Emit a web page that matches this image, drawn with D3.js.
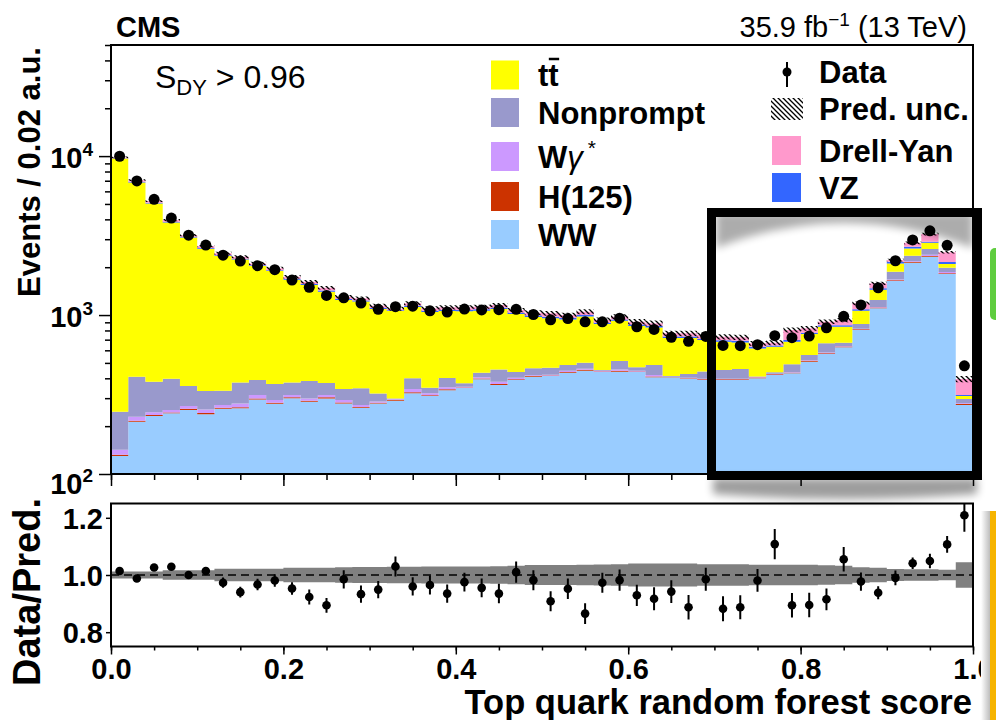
<!DOCTYPE html>
<html>
<head>
<meta charset="utf-8">
<script src="https://cdnjs.cloudflare.com/ajax/libs/d3/7.8.5/d3.min.js"></script>
<style>
  body { margin: 0; background: #fff; }
  svg { display: block; font-family: "Liberation Sans", Arial, Helvetica, sans-serif; }
</style>
</head>
<body>
<div id="chart"></div>
<script>
// bins of 0.02 in the random forest score, events per bin
var binWidth = 0.02;
var ww = [130,213,232,241,253,238,257,259,294,277,300,285,299,278,261,278,289,322,309,337,347,394,363,390,409,413,434,446,438,440,438,406,406,398,390,390,390,400,420,430,509,569,627,805,1102,1636,2132,2326,1811,272];
var h125 = [2,3,3,3,4,4,4,4,5,4,4,4,5,4,3,3,3,5,4,4,3,5,5,5,4,4,5,6,4,6,4,5,2,2,4,4,4,4,4,4,6,7,8,10,14,20,26,28,22,4];
var wgamma = [10,13,10,9,11,13,11,15,15,11,10,10,10,10,8,5,3,15,9,10,4,7,13,8,5,4,7,8,4,9,4,9,1,3,3,3,3,3,3,3,4,6,4,6,8,16,22,40,30,3];
var nonprompt = [104,180,136,145,90,78,62,99,76,76,62,86,60,50,74,35,4,58,27,51,18,28,74,35,44,45,39,41,5,59,23,65,4,23,44,54,60,3,9,53,41,82,31,57,119,200,180,207,121,17];
var ttbar = [9424,6401,4649,3422,2712,2279,2016,1857,1643,1523,1291,1159,1027,901,870,770,761,723,695,658,683,630,636,577,509,487,452,478,427,407,384,350,304,291,255,228,216,207,196,189,200,180,174,186,199,242,267,249,109,13];
var vz = [40,80,60,45,35,32,30,30,27,25,25,25,28,20,20,18,12,20,20,20,22,22,22,20,21,24,21,23,17,18,18,17,17,17,10,15,15,14,12,17,15,18,20,22,30,50,62,41,61,5];
var drellYan = [100,170,120,95,75,72,65,62,54,51,49,51,56,40,38,35,24,42,38,38,41,42,43,40,42,48,42,47,35,37,37,35,33,33,43,36,36,33,26,109,50,46,66,99,111,54,161,341,326,82];
var data = [9980,6980,5350,4075,3180,2755,2380,2186,2044,1930,1659,1495,1328,1283,1189,1086,1129,1138,1063,1045,1090,1077,1081,1086,1008,933,950,907,907,956,844,812,725,683,734,644,642,651,742,720,738,831,981,1158,1485,2196,2967,3390,2745,479];
// relative prediction uncertainty (grey band / hatching)
var predUnc = [0.012,0.012,0.012,0.017,0.017,0.017,0.022,0.022,0.022,0.022,0.025,0.025,0.025,0.027,0.028,0.028,0.029,0.029,0.03,0.03,0.03,0.03,0.031,0.032,0.035,0.035,0.035,0.036,0.037,0.038,0.04,0.04,0.04,0.04,0.038,0.038,0.038,0.036,0.036,0.036,0.036,0.034,0.032,0.027,0.025,0.021,0.02,0.02,0.018,0.045];
// lower panel
var ratio = [1.014,0.988,1.026,1.029,1.0,1.014,0.973,0.94,0.967,0.981,0.953,0.923,0.894,0.985,0.933,0.949,1.03,0.96,0.965,0.935,0.975,0.955,0.935,1.01,0.982,0.908,0.952,0.865,0.973,0.982,0.929,0.917,0.942,0.887,0.985,0.882,0.887,0.981,1.108,0.894,0.895,0.915,1.055,0.977,0.938,0.99,1.041,1.049,1.107,1.209];
var ratioErr = [0.006,0.007,0.008,0.009,0.011,0.014,0.018,0.019,0.02,0.022,0.022,0.026,0.026,0.032,0.03,0.03,0.035,0.032,0.033,0.032,0.033,0.033,0.034,0.037,0.035,0.035,0.036,0.036,0.035,0.037,0.037,0.04,0.04,0.043,0.04,0.044,0.042,0.04,0.053,0.043,0.043,0.038,0.043,0.032,0.023,0.026,0.02,0.025,0.029,0.058];

var xMajor = [0, 0.2, 0.4, 0.6, 0.8, 1.0];
var yMajor = [100, 1000, 10000];
var ratioMajor = [0.8, 1.0, 1.2];

var keys = ['ww', 'h125', 'wgamma', 'nonprompt', 'ttbar', 'vz', 'drellYan'];
var colors = {
   ww: '#99ccff', h125: '#cc3300', wgamma: '#cc99ff', nonprompt: '#9999cc',
   ttbar: '#ffff00', vz: '#3366ff', drellYan: '#ff99cc'
};
var legendLeft = [
   {key: 'ttbar', label: 'tt'},
   {key: 'nonprompt', label: 'Nonprompt'},
   {key: 'wgamma', label: 'W'},
   {key: 'h125', label: 'H(125)'},
   {key: 'ww', label: 'WW'}
];
var legendRight = [
   {key: 'data', label: 'Data'},
   {key: 'unc', label: 'Pred. unc.'},
   {key: 'drellYan', label: 'Drell-Yan'},
   {key: 'vz', label: 'VZ'}
];

var width = 996, height = 720;
var left = 111, right = 973;
var mainTop = 45, mainBottom = 474;
var ratioTop = 503.5, ratioBottom = 646.5;

var x = d3.scaleLinear().domain([0, 1]).range([left, right]);
var y = d3.scaleLog().domain([100, 50000]).range([mainBottom, mainTop]).clamp(true);
var yr = d3.scaleLinear().domain([0.75, 1.25]).range([ratioBottom, ratioTop]).clamp(true);

var bins = ww.map(function(d, i) {
   return {
      lo: i * binWidth, ww: ww[i], h125: h125[i], wgamma: wgamma[i], nonprompt: nonprompt[i],
      ttbar: ttbar[i], vz: vz[i], drellYan: drellYan[i], data: data[i], unc: predUnc[i],
      ratio: ratio[i], ratioErr: ratioErr[i]
   };
});
bins.forEach(function(b) {
   b.total = d3.sum(keys, function(k) { return b[k]; });
});

// step helpers: repeat the last bin at x = 1 so curveStepAfter closes the histogram
function withEnd(arr) {
   var last = arr[arr.length - 1];
   return arr.concat([Object.assign({}, last, {x: last.x + binWidth})]);
}

var svg = d3.select('#chart').append('svg')
   .attr('width', width)
   .attr('height', height);

var defs = svg.append('defs');

var hatch = defs.append('pattern')
   .attr('id', 'hatch')
   .attr('patternUnits', 'userSpaceOnUse')
   .attr('width', 5)
   .attr('height', 5);
hatch.append('path')
   .attr('d', 'M0,0 L5,5 M-1,4 L1,6 M4,-1 L6,1')
   .attr('stroke', '#000')
   .attr('stroke-width', 1.3);

defs.append('clipPath').attr('id', 'mainClip')
   .append('rect')
   .attr('x', left).attr('y', mainTop)
   .attr('width', right - left).attr('height', mainBottom - mainTop);

defs.append('clipPath').attr('id', 'ratioClip')
   .append('rect')
   .attr('x', left).attr('y', ratioTop)
   .attr('width', right - left).attr('height', ratioBottom - ratioTop);

defs.append('clipPath').attr('id', 'boxInner')
   .append('rect')
   .attr('x', 716).attr('y', 217)
   .attr('width', 257).attr('height', 255);

defs.append('filter').attr('id', 'blur')
   .attr('x', '-20%').attr('y', '-50%').attr('width', '140%').attr('height', '200%')
   .append('feGaussianBlur')
   .attr('stdDeviation', 4);

var grad = defs.append('linearGradient').attr('id', 'edgeShade');
grad.append('stop').attr('offset', '0%').attr('stop-color', '#fff');
grad.append('stop').attr('offset', '100%').attr('stop-color', '#bdbdbd');

svg.append('rect')
   .attr('width', width).attr('height', height)
   .attr('fill', '#fff');

// ---------- main panel ----------
var stacked = d3.stack().keys(keys)(bins);

var stackArea = d3.area()
   .curve(d3.curveStepAfter)
   .x(function(d) { return x(d.x); })
   .y0(function(d) { return y(Math.max(d.lower, 1)); })
   .y1(function(d) { return y(Math.max(d.upper, 1)); });

var main = svg.append('g').attr('clip-path', 'url(#mainClip)');

main.selectAll('path.layer')
   .data(stacked)
   .enter().append('path')
   .attr('class', 'layer')
   .attr('fill', function(layer) { return colors[layer.key]; })
   .attr('d', function(layer) {
      return stackArea(withEnd(layer.map(function(s, i) {
         return {x: bins[i].lo, lower: s[0], upper: s[1]};
      })));
   });

main.append('path')
   .attr('fill', 'url(#hatch)')
   .attr('d', stackArea(withEnd(bins.map(function(b) {
      return {x: b.lo, lower: b.total * (1 - b.unc), upper: b.total * (1 + b.unc)};
   }))));

main.selectAll('circle.data')
   .data(bins)
   .enter().append('circle')
   .attr('class', 'data')
   .attr('cx', function(d) { return x(d.lo + binWidth / 2); })
   .attr('cy', function(d) { return y(d.data); })
   .attr('r', 5.5)
   .attr('fill', '#000');

// axes of the main panel
var yAxis = svg.append('g')
   .attr('transform', 'translate(' + left + ',0)')
   .call(d3.axisLeft(y).tickValues(yMajor).tickSize(12).tickPadding(6).tickFormat(''));
yAxis.selectAll('.tick text')
   .attr('font-size', 29)
   .attr('font-weight', 'bold')
   .attr('fill', '#000')
   .attr('dy', function(d) { return d === 100 ? 19 : 11; })
   .each(function(d) {
      var t = d3.select(this);
      t.append('tspan').text('10');
      t.append('tspan').attr('dy', -12).attr('font-size', 19).text(Math.round(Math.log10(d)));
   });

var yMinor = [];
[100, 1000, 10000].forEach(function(dec) {
   d3.range(2, 10).forEach(function(m) { if (dec * m <= 50000) yMinor.push(dec * m); });
});
svg.append('g')
   .attr('transform', 'translate(' + left + ',0)')
   .call(d3.axisLeft(y).tickValues(yMinor).tickSize(6).tickFormat(''));

var xMinor = d3.range(0, 1.0001, 0.05);
svg.append('g')
   .attr('transform', 'translate(0,' + mainBottom + ')')
   .call(d3.axisBottom(x).tickValues(xMajor).tickSize(12).tickFormat(''));
svg.append('g')
   .attr('transform', 'translate(0,' + mainBottom + ')')
   .call(d3.axisBottom(x).tickValues(xMinor).tickSize(6).tickFormat(''));

svg.append('rect')
   .attr('x', left).attr('y', mainTop)
   .attr('width', right - left).attr('height', mainBottom - mainTop)
   .attr('fill', 'none')
   .attr('stroke', '#000')
   .attr('stroke-width', 2);

// ---------- ratio panel ----------
var ratioG = svg.append('g').attr('clip-path', 'url(#ratioClip)');

ratioG.append('path')
   .attr('fill', '#808080')
   .attr('d', d3.area()
      .curve(d3.curveStepAfter)
      .x(function(d) { return x(d.x); })
      .y0(function(d) { return yr(1 - d.unc); })
      .y1(function(d) { return yr(1 + d.unc); })(withEnd(bins.map(function(b) {
         return {x: b.lo, unc: b.unc};
      }))));

ratioG.append('line')
   .attr('x1', left).attr('x2', right)
   .attr('y1', yr(1)).attr('y2', yr(1))
   .attr('stroke', '#000')
   .attr('stroke-width', 1.6)
   .attr('stroke-dasharray', '8,5');

ratioG.selectAll('line.err')
   .data(bins)
   .enter().append('line')
   .attr('class', 'err')
   .attr('x1', function(d) { return x(d.lo + binWidth / 2); })
   .attr('x2', function(d) { return x(d.lo + binWidth / 2); })
   .attr('y1', function(d) { return yr(d.ratio - d.ratioErr); })
   .attr('y2', function(d) { return yr(d.ratio + d.ratioErr); })
   .attr('stroke', '#000')
   .attr('stroke-width', 2);

ratioG.selectAll('circle.rdata')
   .data(bins)
   .enter().append('circle')
   .attr('class', 'rdata')
   .attr('cx', function(d) { return x(d.lo + binWidth / 2); })
   .attr('cy', function(d) { return yr(d.ratio); })
   .attr('r', 4.3)
   .attr('fill', '#000');

var rxAxis = svg.append('g')
   .attr('transform', 'translate(0,' + ratioBottom + ')')
   .call(d3.axisBottom(x).tickValues(xMajor).tickSize(8).tickPadding(4).tickFormat(d3.format('.1f')));
rxAxis.selectAll('text')
   .attr('font-size', 29)
   .attr('font-weight', 'bold')
   .attr('fill', '#000');
svg.append('g')
   .attr('transform', 'translate(0,' + ratioBottom + ')')
   .call(d3.axisBottom(x).tickValues(xMinor).tickSize(4).tickFormat(''));

var ryAxis = svg.append('g')
   .attr('transform', 'translate(' + left + ',0)')
   .call(d3.axisLeft(yr).tickValues(ratioMajor).tickSize(5).tickPadding(3).tickFormat(d3.format('.1f')));
ryAxis.selectAll('text')
   .attr('font-size', 29)
   .attr('font-weight', 'bold')
   .attr('fill', '#000')
   .attr('dy', '0.36em');

svg.selectAll('.domain').remove();
svg.selectAll('.tick line').attr('stroke-width', 1.5);

svg.append('rect')
   .attr('x', left).attr('y', ratioTop)
   .attr('width', right - left).attr('height', ratioBottom - ratioTop)
   .attr('fill', 'none')
   .attr('stroke', '#000')
   .attr('stroke-width', 2);

// ---------- titles ----------
svg.append('text')
   .attr('x', 972).attr('y', 714)
   .attr('text-anchor', 'end')
   .attr('font-size', 34.5)
   .attr('font-weight', 'bold')
   .text('Top quark random forest score');

svg.append('text')
   .attr('transform', 'translate(40,172) rotate(-90)')
   .attr('text-anchor', 'middle')
   .attr('font-size', 31)
   .attr('font-weight', 'bold')
   .text('Events / 0.02 a.u.');

svg.append('text')
   .attr('transform', 'translate(40,592) rotate(-90)')
   .attr('text-anchor', 'middle')
   .attr('font-size', 38)
   .attr('font-weight', 'bold')
   .text('Data/Pred.');

svg.append('text')
   .attr('x', 116).attr('y', 37)
   .attr('font-size', 29)
   .attr('font-weight', 'bold')
   .text('CMS');

var lumi = svg.append('text')
   .attr('x', 967).attr('y', 37)
   .attr('text-anchor', 'end')
   .attr('font-size', 29);
lumi.append('tspan').text('35.9 fb');
lumi.append('tspan').attr('dy', -11).attr('font-size', 19).text('\u22121');
lumi.append('tspan').attr('dy', 11).text(' (13 TeV)');

var cut = svg.append('text')
   .attr('x', 155).attr('y', 88)
   .attr('font-size', 32);
cut.append('tspan').text('S');
cut.append('tspan').attr('dy', 7).attr('font-size', 22).text('DY');
cut.append('tspan').attr('dy', -7).text(' > 0.96');

// ---------- legend ----------
var legL = svg.append('g');
var leftRows = [75, 112.5, 156.5, 196.5, 234.5];
legendLeft.forEach(function(e, i) {
   var cy = leftRows[i];
   legL.append('rect')
      .attr('x', 491).attr('y', cy - 14.5)
      .attr('width', 28).attr('height', 29)
      .attr('fill', colors[e.key]);
   var t = legL.append('text')
      .attr('x', 538).attr('y', cy + 11)
      .attr('font-size', 31)
      .attr('font-weight', 'bold')
      .text(e.label);
   if (e.key === 'wgamma') {
      t.append('tspan').attr('font-style', 'italic').attr('font-weight', 'normal').text('\u03b3');
      t.append('tspan').attr('dx', 5).attr('dy', -13).attr('font-size', 21).attr('font-weight', 'normal').text('*');
   }
   if (e.key === 'ttbar') {
      var node = t.node();
      var start = node.getStartPositionOfChar(1).x;
      var end = node.getEndPositionOfChar(1).x;
      legL.append('line')
         .attr('x1', start + 0.5).attr('x2', end + 0.5)
         .attr('y1', cy - 16).attr('y2', cy - 16)
         .attr('stroke', '#000')
         .attr('stroke-width', 2.5);
   }
});

var legR = svg.append('g');
var rightRows = [72, 109, 150.5, 187.5];
legendRight.forEach(function(e, i) {
   var cy = rightRows[i];
   if (e.key === 'data') {
      legR.append('line')
         .attr('x1', 787).attr('x2', 787)
         .attr('y1', cy - 10).attr('y2', cy + 15)
         .attr('stroke', '#000').attr('stroke-width', 2);
      legR.append('circle')
         .attr('cx', 787).attr('cy', cy)
         .attr('r', 4.5).attr('fill', '#000');
   } else if (e.key === 'unc') {
      legR.append('rect')
         .attr('x', 771).attr('y', cy - 11)
         .attr('width', 32).attr('height', 22)
         .attr('fill', 'url(#hatch)');
   } else {
      legR.append('rect')
         .attr('x', 772).attr('y', cy - 14.5)
         .attr('width', 29).attr('height', 29)
         .attr('fill', colors[e.key]);
   }
   legR.append('text')
      .attr('x', 819).attr('y', cy + 11)
      .attr('font-size', 31)
      .attr('font-weight', 'bold')
      .text(e.label);
});

// ---------- highlight box with its soft curved shadow ----------
svg.append('g')
   .attr('clip-path', 'url(#boxInner)')
   .append('path')
   .attr('d', 'M716,212 H973 V248 Q844,198 716,248 Z')
   .attr('fill', '#000')
   .attr('opacity', 0.32)
   .attr('filter', 'url(#blur)');

svg.append('path')
   .attr('d', 'M713,478 H977 V494 Q845,504 713,494 Z')
   .attr('fill', '#000')
   .attr('opacity', 0.38)
   .attr('filter', 'url(#blur)');

svg.append('rect')
   .attr('x', 711.5).attr('y', 212.5)
   .attr('width', 266).attr('height', 263)
   .attr('fill', 'none')
   .attr('stroke', '#000')
   .attr('stroke-width', 9);

// slide decorations on the right edge
svg.append('rect')
   .attr('x', 990).attr('y', 248)
   .attr('width', 12).attr('height', 72)
   .attr('rx', 5)
   .attr('fill', '#5fcd3f');
svg.append('rect')
   .attr('x', 981).attr('y', 511)
   .attr('width', 9).attr('height', 209)
   .attr('fill', 'url(#edgeShade)');
svg.append('rect')
   .attr('x', 990).attr('y', 511)
   .attr('width', 6).attr('height', 209)
   .attr('fill', '#f6b400');
</script>
</body>
</html>
